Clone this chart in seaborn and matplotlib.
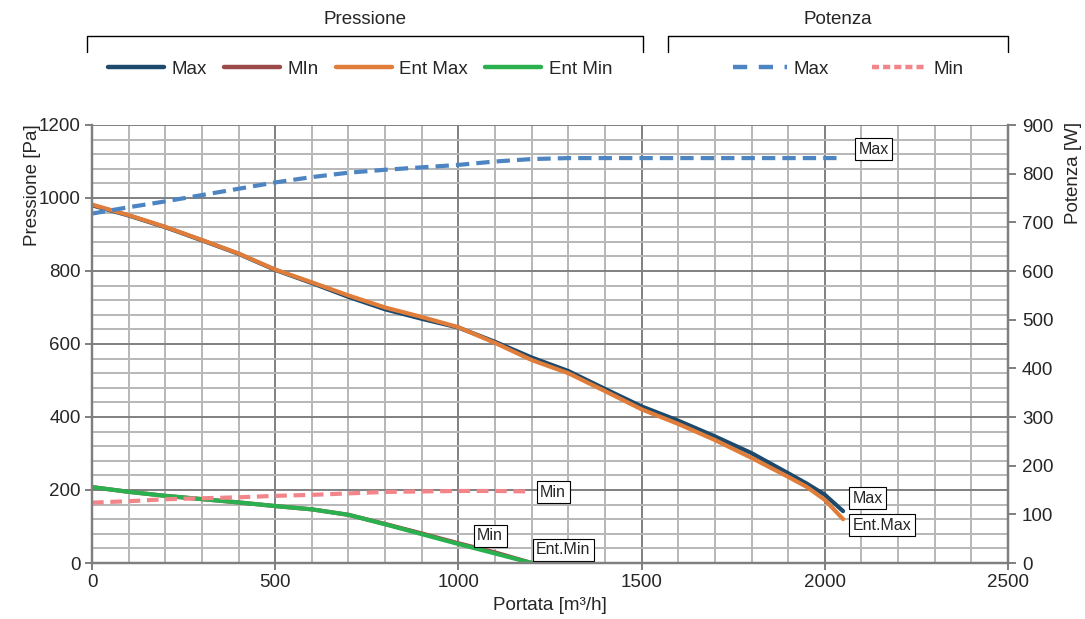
import matplotlib
matplotlib.use("Agg")
import matplotlib.pyplot as plt
from matplotlib.lines import Line2D
from matplotlib.ticker import MultipleLocator
import seaborn as sns

sns.set_style("white")
plt.rcParams["font.family"] = ["Liberation Sans", "DejaVu Sans"]

# Pressure curves (Pa) vs airflow (m³/h)
flow_max = [0, 100, 200, 300, 400, 500, 600, 700, 800, 900, 1000, 1100, 1200,
            1300, 1400, 1500, 1600, 1700, 1800, 1900, 1950, 2000, 2050]
p_max = [980, 952, 920, 884, 847, 803, 767, 729, 695, 669, 645, 606, 563,
         526, 477, 429, 390, 347, 301, 246, 218, 187, 142]
p_ent_max = [982, 953, 921, 885, 848, 804, 769, 733, 700, 674, 646, 603, 556,
             520, 471, 421, 381, 337, 288, 236, 209, 173, 120]

flow_min = [0, 100, 200, 300, 400, 500, 600, 700, 800, 900, 1000, 1100, 1200]
p_min = [208, 195, 184, 175, 166, 156, 147, 132, 107, 81, 54, 29, 0]
p_ent_min = [208, 195, 184, 175, 166, 156, 147, 132, 106, 79, 52, 26, 0]

# Power curves (W)
w_max = [718, 731, 743, 756, 769, 782, 793, 802, 808, 813, 818, 825, 830,
         832, 832, 832, 832, 832, 832, 832, 832, 832, 832]
w_min = [124, 127, 131, 133, 135, 138, 140, 143, 146, 147, 148, 148, 147]

pressure_series = ["Max", "MIn", "Ent Max", "Ent Min"]
power_series = ["Max", "Min"]

C_MAX = "#1d4a6c"
C_MIN = "#9c4a48"
C_ENTMAX = "#e07d3a"
C_ENTMIN = "#2bb050"
C_WMAX = "#4d85c3"
C_WMIN = "#f2858a"
FS = 13.5
GRAY = "#7f7f7f"

fig = plt.figure(figsize=(10.85, 6.19), dpi=100)
ax = fig.add_axes([92 / 1085, 1 - 563 / 619, 916 / 1085, 438 / 619])
ax2 = ax.twinx()

lw = 3.0
sns.lineplot(x=flow_max, y=p_max, ax=ax, color=C_MAX, lw=lw, sort=False, estimator=None)
sns.lineplot(x=flow_min, y=p_min, ax=ax, color=C_MIN, lw=lw, sort=False, estimator=None)
sns.lineplot(x=flow_max, y=p_ent_max, ax=ax, color=C_ENTMAX, lw=lw, sort=False, estimator=None)
sns.lineplot(x=flow_min, y=p_ent_min, ax=ax, color=C_ENTMIN, lw=lw, sort=False, estimator=None)

sns.lineplot(x=flow_max, y=w_max, ax=ax2, color=C_WMAX, lw=lw, sort=False, estimator=None)
sns.lineplot(x=flow_min, y=w_min, ax=ax2, color=C_WMIN, lw=lw, sort=False, estimator=None)
ax2.lines[0].set_dashes((3.2, 1.7))
ax2.lines[1].set_dashes((2.8, 1.6))

# Axes ranges and grid
ax.set_xlim(0, 2500)
ax.set_ylim(0, 1200)
ax2.set_ylim(0, 900)
ax.xaxis.set_major_locator(MultipleLocator(500))
ax.xaxis.set_minor_locator(MultipleLocator(100))
ax.yaxis.set_major_locator(MultipleLocator(200))
ax.yaxis.set_minor_locator(MultipleLocator(40))
ax2.yaxis.set_major_locator(MultipleLocator(100))
ax.set_axisbelow(True)
ax.grid(which="minor", color="#b7b7b7", lw=1.4)
ax.grid(which="major", color="#808080", lw=1.4)
ax2.grid(False)

for a in (ax, ax2):
    for side in ("left", "right", "bottom"):
        a.spines[side].set_color(GRAY)
        a.spines[side].set_linewidth(1.6)
    a.spines["top"].set_visible(False)

ax.tick_params(which="major", direction="out", length=5, width=1.4, color=GRAY,
               labelsize=FS, pad=3, left=True, bottom=True)
ax.tick_params(which="minor", length=0)
ax2.tick_params(axis="y", direction="out", length=6, width=1.4, color=GRAY,
                labelsize=FS, pad=4, right=True)

ax.set_xlabel("Portata [m³/h]", fontsize=FS, labelpad=4)
ax.set_ylabel("Pressione [Pa]", fontsize=FS)
ax2.set_ylabel("Potenza [W]", fontsize=FS)
ax.yaxis.set_label_coords(-0.056, 0.863)
ax2.yaxis.set_label_coords(1.062, 0.89)

# End-of-curve name tags
LFS = 11.5
box = dict(boxstyle="square,pad=0.22", fc="white", ec="black", lw=0.8)
pad_px = 0.22 * LFS / 0.72

def tag(axis, x, y, text, dx_px, dy_px):
    axis.annotate(text, xy=(x, y), xytext=((dx_px + pad_px) * 0.72, dy_px * 0.72),
                  textcoords="offset points", ha="left", va="center",
                  fontsize=LFS, bbox=box, zorder=10)

tag(ax2, flow_max[-1], w_max[-1], "Max", 12, 9)
tag(ax2, flow_min[-1], w_min[-1], "Min", 5, -1)
tag(ax, flow_max[-1], p_max[-1], "Max", 6, 13)
tag(ax, flow_max[-1], p_ent_max[-1], "Ent.Max", 6, -6)
tag(ax, flow_min[-1], p_min[-1], "Min", -58, 27)
tag(ax, flow_min[-1], p_ent_min[-1], "Ent.Min", 1, 13)

# Grouped legends with bracket headers
p_handles = [Line2D([], [], color=c, lw=3.2, solid_capstyle="round")
             for c in (C_MAX, C_MIN, C_ENTMAX, C_ENTMIN)]
fig.legend(p_handles, pressure_series, loc="center",
           bbox_to_anchor=(360 / 1085, 1 - 69 / 619), ncol=4, frameon=False,
           fontsize=FS, handlelength=3.0, handletextpad=0.4, columnspacing=0.9)
w_handles = [Line2D([], [], color=C_WMAX, lw=3.2, dashes=(3.2, 2.6)),
             Line2D([], [], color=C_WMIN, lw=3.2, dashes=(1.6, 0.9))]
fig.legend(w_handles, power_series, loc="center",
           bbox_to_anchor=(848 / 1085, 1 - 69 / 619), ncol=2, frameon=False,
           fontsize=FS, handlelength=2.9, handletextpad=0.35, columnspacing=2.3)

W, H = 1085, 619
for x0, x1, title in ((87, 643, "Pressione"), (668, 1008, "Potenza")):
    fig.add_artist(Line2D([x0 / W, x0 / W, x1 / W, x1 / W],
                          [1 - 52 / H, 1 - 36 / H, 1 - 36 / H, 1 - 52 / H],
                          color="black", lw=1.0, transform=fig.transFigure))
    fig.text((x0 + x1) / 2 / W, 1 - 20 / H, title, ha="center", va="center", fontsize=FS)

fig.savefig("out.png", dpi=100)
